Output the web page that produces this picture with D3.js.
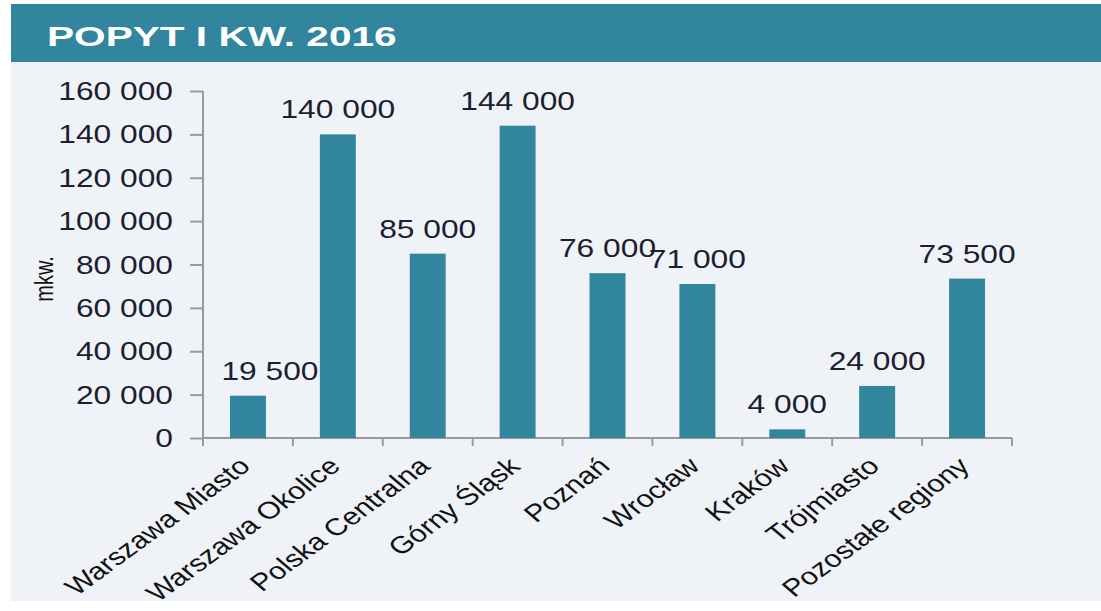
<!DOCTYPE html>
<html>
<head>
<meta charset="utf-8">
<script src="https://cdn.jsdelivr.net/npm/d3@7"></script>
<style>
  body { margin: 0; background: #fff; }
  text { font-family: Arial, "Liberation Sans", sans-serif; }
</style>
</head>
<body>
<div id="chart"></div>
<script>
const title = 'POPYT I KW. 2016'
const yLabel = 'mkw.'
const categories = ['Warszawa Miasto', 'Warszawa Okolice', 'Polska Centralna', 'Górny Śląsk',
  'Poznań', 'Wrocław', 'Kraków', 'Trójmiasto', 'Pozostałe regiony']
const values = [19500, 140000, 85000, 144000, 76000, 71000, 4000, 24000, 73500]
const yTicks = [0, 20000, 40000, 60000, 80000, 100000, 120000, 140000, 160000]

const width = 1101
const height = 611
const margin = { top: 91, right: 89, bottom: 173, left: 203 }
const boundedWidth = width - margin.left - margin.right
const boundedHeight = height - margin.top - margin.bottom
const stretch = 1.27 // the picture is stretched horizontally
const teal = '#31859c'
const fmt = v => d3.format(',')(v).replace(/,/g, ' ')

const svg = d3.select('#chart').append('svg')
  .attr('width', width)
  .attr('height', height)

// panel background + header bar
svg.append('rect')
  .attr('x', 11).attr('y', 4)
  .attr('width', width - 11).attr('height', 597)
  .attr('fill', '#eff3f7')
svg.append('rect')
  .attr('x', 11).attr('y', 4)
  .attr('width', width - 11).attr('height', 58)
  .attr('fill', teal)
svg.append('text')
  .attr('transform', 'translate(47, 45.5) scale(1.45, 1)')
  .attr('fill', '#fff')
  .attr('font-weight', 'bold')
  .attr('font-size', 28)
  .text(title)

const plot = svg.append('g')
  .attr('transform', `translate(${margin.left}, ${margin.top})`)

const xScale = d3.scaleBand()
  .domain(categories)
  .range([0, boundedWidth])
  .paddingInner(0.6)
  .paddingOuter(0.3)

const yScale = d3.scaleLinear()
  .domain([0, 160000])
  .range([boundedHeight, 0])

// y axis
const yAxis = plot.append('g')
  .attr('class', 'y-axis')
  .call(d3.axisLeft(yScale).tickValues(yTicks).tickSize(13).tickFormat(() => ''))
yAxis.select('.domain').attr('d', `M0,0V${boundedHeight}`)
yAxis.selectAll('line, path').attr('stroke', '#9a9a9a').attr('stroke-width', 2)

yAxis.selectAll('.tick-label')
  .data(yTicks)
  .enter().append('text')
  .attr('class', 'tick-label')
  .attr('transform', d => `translate(-30, ${yScale(d) + 9}) scale(${stretch}, 1)`)
  .attr('text-anchor', 'end')
  .attr('font-size', 25)
  .attr('fill', '#1e1e30')
  .text(d => fmt(d))

// x axis with ticks at the slot boundaries
const xAxis = plot.append('g')
  .attr('class', 'x-axis')
  .attr('transform', `translate(0, ${boundedHeight})`)
xAxis.append('path')
  .attr('d', `M0,0H${boundedWidth}`)
  .attr('stroke', '#9a9a9a').attr('stroke-width', 2).attr('fill', 'none')
const boundaries = d3.range(categories.length + 1).map(i => i * boundedWidth / categories.length)
xAxis.selectAll('.xtick')
  .data(boundaries)
  .enter().append('line')
  .attr('class', 'xtick')
  .attr('x1', d => d).attr('x2', d => d)
  .attr('y1', 0).attr('y2', 8)
  .attr('stroke', '#9a9a9a').attr('stroke-width', 2)

xAxis.selectAll('.cat-label')
  .data(categories)
  .enter().append('text')
  .attr('class', 'cat-label')
  .attr('transform', d => `translate(${xScale(d) + xScale.bandwidth() / 2 + 4}, 30) scale(${stretch}, 1) rotate(-43)`)
  .attr('text-anchor', 'end')
  .attr('font-size', 24)
  .attr('fill', '#111')
  .text(d => d)

// bars
plot.selectAll('.bar')
  .data(values)
  .enter().append('rect')
  .attr('class', 'bar')
  .attr('x', (d, i) => xScale(categories[i]))
  .attr('y', d => yScale(d))
  .attr('width', xScale.bandwidth())
  .attr('height', d => boundedHeight - yScale(d))
  .attr('fill', teal)

// value labels
plot.selectAll('.value-label')
  .data(values)
  .enter().append('text')
  .attr('class', 'value-label')
  .attr('transform', (d, i) => `translate(${xScale(categories[i]) + xScale.bandwidth() / 2 + (i === 0 ? 22 : 0)}, ${yScale(d) - 16}) scale(${stretch}, 1)`)
  .attr('text-anchor', 'middle')
  .attr('font-size', 25)
  .attr('fill', '#1e1e30')
  .text(d => fmt(d))

// y axis title
svg.append('text')
  .attr('transform', `translate(53, 279) scale(${stretch}, 1) rotate(-90)`)
  .attr('text-anchor', 'middle')
  .attr('font-size', 20)
  .attr('fill', '#111')
  .text(yLabel)
</script>
</body>
</html>
